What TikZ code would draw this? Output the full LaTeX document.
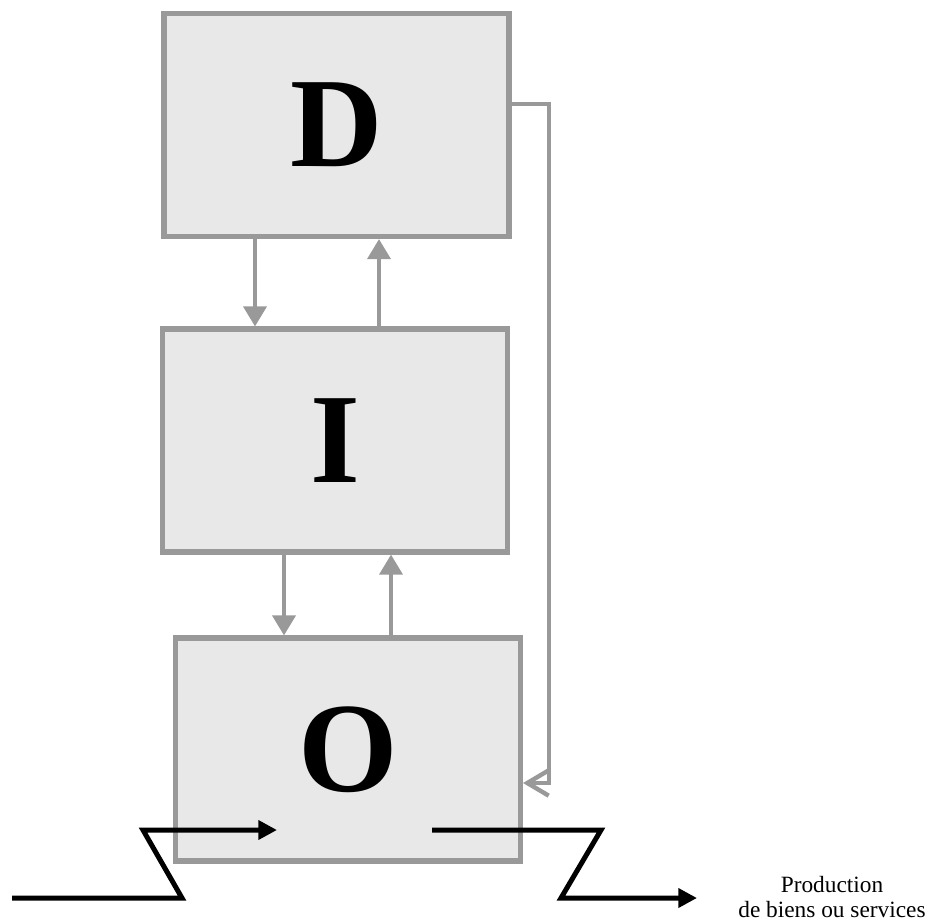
\documentclass[tikz,border=0pt]{standalone}
\usepackage{fontspec}
\setmainfont{Liberation Serif}
\usepackage{tikz}
\usetikzlibrary{arrows.meta}
\definecolor{boxgrey}{RGB}{232,232,232}
\definecolor{linegrey}{RGB}{153,153,153}
\tikzset{boxstyle/.style={rectangle,draw=linegrey,line width=3.8pt,fill=boxgrey,minimum width=258.75pt,minimum height=167.25pt,inner sep=0pt,font=\fontsize{96}{96}\selectfont\bfseries}}
\tikzset{greyarrow/.style={draw=linegrey,line width=3.3pt,-{Triangle[length=15pt,width=17pt]}}}
\tikzset{backarrow/.style={draw=linegrey,line width=3.3pt,-{Straight Barb[length=16pt,width=19pt]}}}
\tikzset{flowarrow/.style={draw=black,line width=3.75pt,-{Triangle[length=14pt,width=14pt]}}}

\begin{document}
\begin{tikzpicture}[x=0.75pt,y=-0.75pt]
        \useasboundingbox (0,0) rectangle (934,922);

        \foreach \n/\x/\y in {D/336.5/125,I/335/440.5,O/348/749.5}
        {
            \node[boxstyle] (\n) at (\x,\y) {\n};
        }

        % Vertical connections
        \draw[greyarrow] (255,0 |- D.south) -- (255,0 |- I.north);
        \draw[greyarrow] (379,0 |- I.north) -- (379,0 |- D.south);
        \draw[greyarrow] (284,0 |- I.south) -- (284,0 |- O.north);
        \draw[greyarrow] (391,0 |- O.north) -- (391,0 |- I.south);

        % Feedback
        \draw[backarrow] ([yshift=15.75pt]D.east) -| (549,783) -- (O.east |- 0,783);

        % Input and output
        \coordinate (in) at (12,898);
        \coordinate (out) at (697,898);
        \draw[flowarrow] (in) -- (182,898) -- (143,830) -- (277,830);
        \draw[flowarrow] (432,830) -- (601,830) -- (561,898) -- (out);

        \node[align=center,font=\fontsize{17.5}{19}\selectfont] (prod) at (832,897)
        {Production\\de biens ou services};
\end{tikzpicture}
\end{document}
